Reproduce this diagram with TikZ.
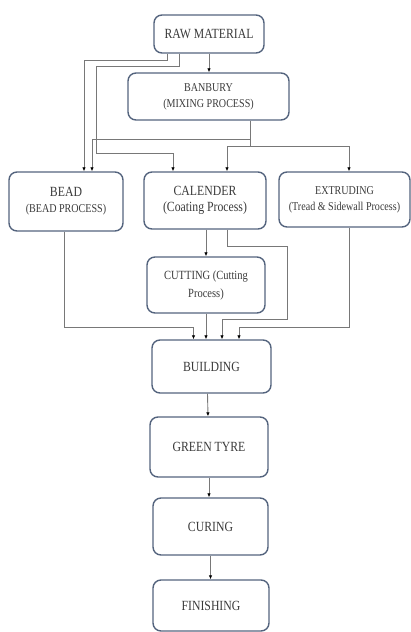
\documentclass[tikz,border=0pt]{standalone}
\usepackage{fontspec}
\setmainfont{Liberation Serif}[FakeStretch=0.84]
\usetikzlibrary{positioning,calc}
\usetikzlibrary{arrows.meta}
\definecolor{boxline}{RGB}{84,100,126}
\definecolor{txt}{RGB}{58,58,58}
\definecolor{wire}{RGB}{120,120,120}

\begin{document}
\begin{tikzpicture}[x=1pt, y=-1pt,
  box/.style={draw=boxline, line width=1.4pt, rounded corners=8pt, align=center, text=txt, inner sep=0pt, font=\fontsize{14}{16}\selectfont},
  conn/.style={draw=wire, line width=0.9pt, -{Latex[length=4pt,width=3.5pt,black]}}]
\useasboundingbox (0,0) rectangle (411,632);

\node (raw) [box, minimum width=110pt, minimum height=38pt] at (209,34) {RAW MATERIAL};
\node (banbury) [box, minimum width=161pt, minimum height=47pt, font=\fontsize{12}{16}\selectfont] at (208.5,96.5) {BANBURY\\(MIXING PROCESS)};
\node (bead) [box, minimum width=114pt, minimum height=59pt] at (66,201.5) {BEAD\\{\fontsize{12}{16}\selectfont (BEAD PROCESS)}};
\node (calender) [box, minimum width=122pt, minimum height=57pt] at (205,200.5) {CALENDER\\(Coating Process)};
\node (extruding) [box, minimum width=131pt, minimum height=55pt, font=\fontsize{12}{16}\selectfont] at (344.5,199.5) {EXTRUDING\\(Tread \& Sidewall Process)};
\node (cutting) [box, minimum width=118pt, minimum height=56pt, font=\fontsize{12.5}{18}\selectfont] at (206,285) {CUTTING (Cutting\\Process)};
\node (building) [box, minimum width=119pt, minimum height=53pt] at (211.5,366.5) {BUILDING};
\node (green) [box, minimum width=118pt, minimum height=60pt] at (209,447) {GREEN TYRE};
\node (curing) [box, minimum width=115pt, minimum height=57pt] at (210.5,526.5) {CURING};
\node (finishing) [box, minimum width=116pt, minimum height=51pt] at (211,605.5) {FINISHING};

\draw[conn] (raw.south) -- (raw.south |- banbury.north);
\draw[conn] ([xshift=-42]raw.south) -- ++(0,7) -| ([xshift=18]bead.north);
\draw[conn] ([xshift=-30]raw.south) -- ++(0,13) -- ++(-83,0) -- ++(0,87) -| ([xshift=-32]calender.north);
\draw[conn] ([xshift=42]banbury.south) -- ++(0,19) -| ([xshift=26]bead.north);
\draw[draw=wire, line width=0.9pt] ([xshift=42]banbury.south) -- ++(0,26) coordinate (split);
\draw[conn] (split) -| ([xshift=22]calender.north);
\draw[conn] (split) -| ([xshift=4.5]extruding.north);

\draw[conn] (calender.south -| cutting.north) -- (cutting.north);
\draw[conn] ([xshift=-2]bead.south) -- ++(0,96) -| ([xshift=-18]building.north);
\draw[conn] ([xshift=22]calender.south) -- ++(0,17) -- ++(60,0) -- ++(0,73) -| ([xshift=10.5]building.north);
\draw[conn] (cutting.south) -- (cutting.south |- building.north);
\draw[conn] ([xshift=4.5]extruding.south) -- ++(0,100) -| ([xshift=27.5]building.north);

\draw[conn] ([xshift=-4]building.south) -- ([xshift=-1]green.north);
\draw[conn] (green.south) -- (green.south |- curing.north);
\draw[conn] (curing.south) -- (curing.south |- finishing.north);
\end{tikzpicture}
\end{document}
